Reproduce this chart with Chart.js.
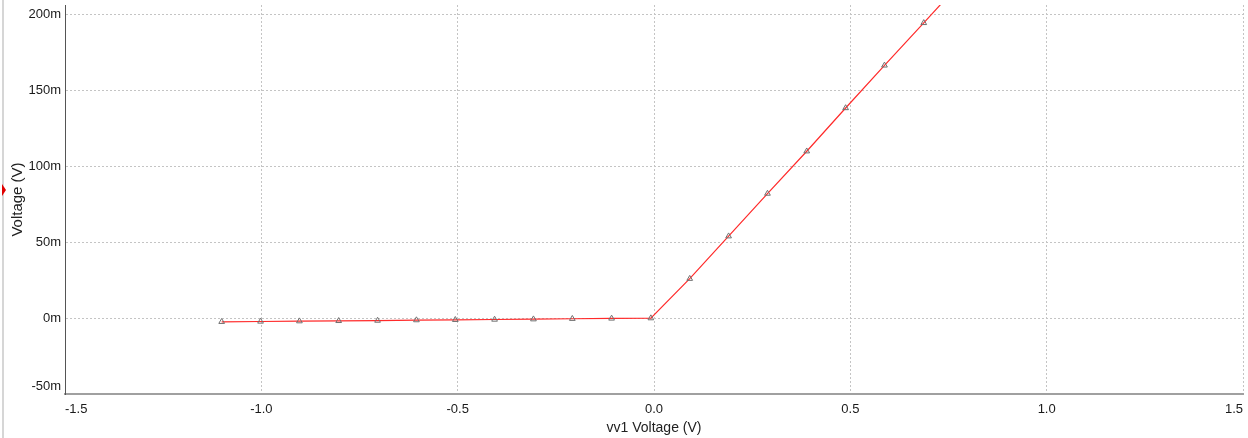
<!DOCTYPE html>
<html>
<head>
<meta charset="utf-8">
<script src="https://cdn.jsdelivr.net/npm/chart.js@4.4.1/dist/chart.umd.min.js"></script>
<style>
  html, body { margin: 0; padding: 0; background: #fff; }
  #wrap { width: 1248px; height: 438px; }
</style>
</head>
<body>
<div id="wrap"><canvas id="plot"></canvas></div>
<script>
// sweep of vv1 (V) and the probed output voltage (V)
const sweepV = [-1.101, -1.002, -0.903, -0.803, -0.704, -0.605, -0.506, -0.406, -0.307, -0.208, -0.108, -0.008,
                0.091, 0.190, 0.289, 0.389, 0.488, 0.587, 0.687, 0.740];
const outV = [-0.0024, -0.0022, -0.0020, -0.0018, -0.0016, -0.0013, -0.0011, -0.0009, -0.0007, -0.0004, -0.0002, 0.0,
              0.0260, 0.0540, 0.0821, 0.1100, 0.1385, 0.1666, 0.1946, 0.2096];
// markers sit on every sample except the last one
const markerCount = 19;
const xTicks = [-1.5, -1.0, -0.5, 0.0, 0.5, 1.0, 1.5];
const yTicks = [-0.05, 0, 0.05, 0.1, 0.15, 0.2];

const linePts = sweepV.map((x, i) => ({ x: x, y: outV[i] }));
const markPts = linePts.slice(0, markerCount);

// thin grey rail + red cursor arrow on the left edge
const sideRail = {
  id: 'sideRail',
  afterDraw(chart) {
    const ctx = chart.ctx;
    ctx.save();
    ctx.strokeStyle = '#c8c8c8';
    ctx.lineWidth = 1.5;
    ctx.beginPath();
    ctx.moveTo(3, 0);
    ctx.lineTo(3, 438);
    ctx.stroke();
    ctx.fillStyle = '#e00000';
    ctx.beginPath();
    ctx.moveTo(2, 184);
    ctx.lineTo(6, 190);
    ctx.lineTo(2, 196);
    ctx.closePath();
    ctx.fill();
    ctx.restore();
  }
};

new Chart(document.getElementById('plot'), {
  type: 'scatter',
  data: {
    datasets: [
      {
        data: linePts,
        showLine: true,
        borderColor: '#ff2a2a',
        borderWidth: 1.2,
        pointRadius: 0,
        order: 2
      },
      {
        data: markPts,
        showLine: false,
        pointStyle: 'triangle',
        pointRadius: 3.3,
        borderWidth: 1,
        borderColor: '#707070',
        backgroundColor: 'rgba(255,255,255,0)',
        order: 1
      }
    ]
  },
  options: {
    responsive: true,
    maintainAspectRatio: false,
    animation: false,
    layout: { padding: { top: 5, right: 3.5, left: 0, bottom: 0 } },
    plugins: { legend: { display: false }, tooltip: { enabled: false } },
    scales: {
      x: {
        type: 'linear',
        min: -1.5,
        max: 1.5,
        afterBuildTicks(s) { s.ticks = xTicks.map(v => ({ value: v })); },
        afterFit(s) { s.height = 44; s.paddingLeft = 0; s.paddingRight = 0; },
        grid: { color: '#c4c4c4', lineWidth: 1, drawTicks: false },
        border: { color: '#a0a0a0', width: 2, dash: [2, 2] },
        ticks: {
          align: 'inner',
          padding: 8,
          color: '#1a1a1a',
          font: { family: 'Liberation Sans', size: 13 },
          callback: v => v.toFixed(1)
        },
        title: {
          display: true,
          text: 'vv1 Voltage (V)',
          color: '#222',
          font: { family: 'Liberation Sans', size: 14 },
          padding: { top: 0, bottom: 1 }
        }
      },
      y: {
        type: 'linear',
        min: -0.05,
        max: 0.2064,
        afterBuildTicks(s) { s.ticks = yTicks.map(v => ({ value: v })); },
        afterFit(s) { s.width = 65; s.paddingTop = 0; s.paddingBottom = 0; },
        grid: { color: '#c4c4c4', lineWidth: 1, drawTicks: false },
        border: { color: '#555', width: 1, dash: [2, 2] },
        ticks: {
          padding: 4,
          color: '#1a1a1a',
          font: { family: 'Liberation Sans', size: 13 },
          // the bottom label is lifted half a line so it stays above the axis
          callback: v => {
            const txt = Math.round(v * 1000) + 'm';
            return v <= yTicks[0] ? [txt, ''] : txt;
          }
        },
        title: {
          display: true,
          text: 'Voltage (V)',
          color: '#222',
          font: { family: 'Liberation Sans', size: 15 },
          padding: { top: 9, bottom: 0 }
        }
      }
    }
  },
  plugins: [sideRail]
});
</script>
</body>
</html>
